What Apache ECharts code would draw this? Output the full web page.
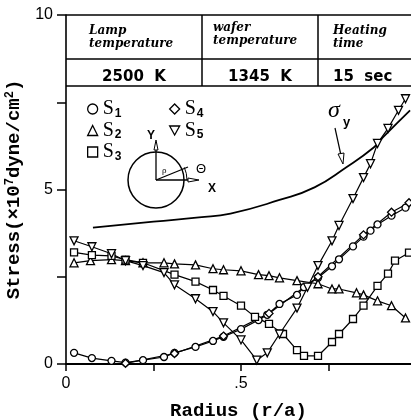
<!DOCTYPE html>
<html><head><meta charset="utf-8">
<script src="https://cdn.jsdelivr.net/npm/echarts@6/dist/echarts.min.js"></script>
<style>html,body{margin:0;padding:0;background:#fff}#c{width:411px;height:420px}</style>
</head><body><div id="c"></div>
<script>
// ---- data (r/a, stress in 1e7 dyne/cm2) ----
var s1 = [[0.023,0.32],[0.074,0.17],[0.13,0.09],[0.17,0.04],[0.22,0.11],[0.28,0.2],[0.31,0.32],[0.37,0.49],[0.42,0.66],[0.45,0.78],[0.50,1.0],[0.55,1.26],[0.575,1.41],[0.61,1.72],[0.66,1.98],[0.68,2.2],[0.72,2.47],[0.76,2.8],[0.78,3.0],[0.82,3.37],[0.85,3.65],[0.87,3.82],[0.89,4.0],[0.93,4.25],[0.97,4.48]];
var s2 = [[0.023,2.9],[0.07,2.96],[0.13,2.99],[0.17,2.96],[0.22,2.9],[0.28,2.9],[0.31,2.87],[0.37,2.84],[0.42,2.73],[0.45,2.7],[0.5,2.67],[0.55,2.56],[0.58,2.53],[0.61,2.47],[0.66,2.39],[0.72,2.3],[0.76,2.15],[0.78,2.15],[0.83,2.04],[0.85,1.98],[0.89,1.81],[0.93,1.67],[0.97,1.32]];
var s3 = [[0.023,3.2],[0.074,3.12],[0.13,3.1],[0.17,2.99],[0.22,2.9],[0.31,2.56],[0.37,2.36],[0.42,2.12],[0.45,1.95],[0.5,1.67],[0.54,1.35],[0.58,1.15],[0.62,0.86],[0.66,0.4],[0.68,0.23],[0.72,0.23],[0.76,0.63],[0.78,0.86],[0.82,1.29],[0.85,1.67],[0.89,2.24],[0.92,2.59],[0.94,2.96],[0.98,3.19]];
var s4 = [[0.17,0.02],[0.31,0.3],[0.45,0.8],[0.58,1.45],[0.72,2.5],[0.85,3.7],[0.93,4.35],[0.98,4.62]];
var s5 = [[0.023,3.53],[0.074,3.36],[0.13,3.16],[0.17,2.96],[0.22,2.82],[0.28,2.62],[0.31,2.27],[0.37,1.87],[0.42,1.5],[0.45,1.18],[0.5,0.69],[0.545,0.11],[0.575,0.32],[0.61,0.86],[0.66,1.6],[0.69,2.2],[0.72,2.82],[0.76,3.53],[0.78,3.97],[0.82,4.74],[0.85,5.34],[0.87,5.74],[0.89,6.32],[0.92,6.75],[0.95,7.27],[0.97,7.6]];
var sigmaY = [[0.077,3.91],[0.25,4.08],[0.38,4.2],[0.47,4.31],[0.61,4.7],[0.71,5.06],[0.8,5.63],[0.88,6.21],[0.906,6.5],[0.983,7.27]];
var xTickLabels = {0:'0', 0.5:'.5'};
var tableHead = ['Lamp\ntemperature','wafer\ntemperature','Heating\ntime'];
var tableVals = ['2500  K','1345  K','15  sec'];

var DOWN = 'path://M0,0L10,0L5,9Z';
function mk(name, data, symbol, size) {
  return {name:name, type:'line', data:data, symbol:symbol, symbolSize:size, showAllSymbol:true,
    lineStyle:{color:'#000', width:1.2}, itemStyle:{color:'#fff', borderColor:'#000', borderWidth:1.3}, z:3};
}
var chart = echarts.init(document.getElementById('c'), null, {renderer:'canvas'});
var G = [];
function L(x1,y1,x2,y2,w){G.push({type:'line',shape:{x1:x1,y1:y1,x2:x2,y2:y2},style:{stroke:'#000',lineWidth:w||1.5},z:10});}
function T(x,y,t,font,align){G.push({type:'text',x:x,y:y,style:{text:t,font:font,fill:'#000',textAlign:align||'left',textVerticalAlign:'top',lineHeight:13},z:10});}
// table
L(66,15,411,15,1.6); L(66,59,411,59,1.5); L(66,86,411,86,1.5);
L(202,15,202,86,1.5); L(318,15,318,86,1.5);
T(89,24,tableHead[0],'italic bold 12px "DejaVu Serif"');
T(213,21,tableHead[1],'italic bold 12px "DejaVu Serif"');
T(333,24,tableHead[2],'italic bold 12px "DejaVu Serif"');
T(134,71,tableVals[0],'bold 15px "DejaVu Sans"','center');
T(260,71,tableVals[1],'bold 15px "DejaVu Sans"','center');
T(333,71,tableVals[2],'bold 15px "DejaVu Sans"');
// circle diagram
G.push({type:'circle',shape:{cx:156,cy:180,r:28},style:{fill:'none',stroke:'#000',lineWidth:1.5},z:10});
L(156,180,156,142,1.3); L(156,180,196,180,1.3); L(156,180,188,167,1.3);
G.push({type:'polygon',shape:{points:[[154,150],[158,150],[156,140]]},style:{fill:'#fff',stroke:'#000',lineWidth:1},z:10});
G.push({type:'polygon',shape:{points:[[188,178],[188,182],[199,180]]},style:{fill:'#fff',stroke:'#000',lineWidth:1},z:10});
G.push({type:'arc',shape:{cx:156,cy:180,r:31,startAngle:-0.42,endAngle:0},style:{fill:'none',stroke:'#000',lineWidth:1},z:10});
T(147,129,'Y','bold 12px "Liberation Sans"');
T(208,182,'X','bold 12px "Liberation Sans"');
T(196,163,'\u0398','13px "Liberation Sans"');
T(162,164,'\u03c1','9px "Liberation Serif"');
// sigma_y label
T(328,104,'\u03c3','italic 24px "Liberation Serif"');
T(343,116,'y','bold 13px "Liberation Sans"');
L(335,128,342,160,1.2);
G.push({type:'polygon',shape:{points:[[338,154],[344,153],[343,164]]},style:{fill:'#fff',stroke:'#000',lineWidth:1},z:10});

var legendRich = {s:{fontFamily:'Liberation Serif',fontSize:20,lineHeight:20,color:'#000'}, n:{fontFamily:'Liberation Sans',fontWeight:'bold',fontSize:12,color:'#000',padding:[9,0,0,1]}};
var legFmt = function(n){return '{s|S}{n|'+n.slice(1)+'}';};
var legStyle = {color:'#fff',borderColor:'#000',borderWidth:1.3};
var option = {
  animation:false,
  backgroundColor:'#fff',
  grid:{left:66,top:15,right:0,bottom:56,containLabel:false,outerBoundsMode:'none'},
  legend:[
    {orient:'vertical',left:82,top:94,itemGap:1,itemWidth:10,itemHeight:10,selectedMode:false,
     data:[{name:'S1',icon:'circle'},{name:'S2',icon:'triangle'},{name:'S3',icon:'rect'}],
     formatter:legFmt,itemStyle:legStyle,textStyle:{color:'#000',rich:legendRich}},
    {orient:'vertical',left:164,top:94,itemGap:1,itemWidth:10,itemHeight:10,selectedMode:false,
     data:[{name:'S4',icon:'diamond'},{name:'S5',icon:DOWN}],
     formatter:legFmt,itemStyle:legStyle,textStyle:{color:'#000',rich:legendRich}}
  ],
  xAxis:{type:'value',min:0,max:0.9857,interval:0.25,
    name:'Radius (r/a)',nameLocation:'middle',nameGap:38,
    nameTextStyle:{fontFamily:'Liberation Mono',fontSize:19,color:'#000',fontWeight:'bold'},
    axisLine:{lineStyle:{color:'#000',width:2}},
    axisTick:{length:7,lineStyle:{color:'#000',width:1.5}},
    axisLabel:{margin:12,color:'#000',fontFamily:'Liberation Sans',fontSize:16,showMaxLabel:false,
      formatter:function(v){return xTickLabels[v]!==undefined?xTickLabels[v]:'';}},
    splitLine:{show:false}},
  yAxis:{type:'value',min:0,max:10,interval:5,
    name:'{a|Stress(\u00d710}{p|7}{a|dyne/cm}{p|2}{a|)}',nameLocation:'middle',nameGap:42,
    nameTextStyle:{rich:{a:{fontFamily:'Liberation Mono',fontSize:19,fontWeight:'bold',color:'#000'},
                         p:{fontFamily:'Liberation Mono',fontSize:12,fontWeight:'bold',color:'#000',padding:[0,0,8,0]}}},
    axisLine:{show:true,lineStyle:{color:'#000',width:1.6}},
    axisTick:{length:9,lineStyle:{color:'#000',width:1.5}},
    minorTick:{show:true,splitNumber:2,length:9,lineStyle:{color:'#000',width:1.5}},
    axisLabel:{margin:13,color:'#000',fontFamily:'Liberation Sans',fontSize:16},
    splitLine:{show:false}},
  graphic:G,
  series:[
    mk('S1',s1,'circle',7),
    mk('S2',s2,'triangle',8),
    mk('S3',s3,'rect',7),
    mk('S4',s4,'diamond',8),
    mk('S5',s5,DOWN,8),
    {name:'sigma_y',type:'line',data:sigmaY,smooth:true,symbol:'none',lineStyle:{color:'#000',width:1.8},z:2}
  ]
};
chart.setOption(option);
</script></body></html>
